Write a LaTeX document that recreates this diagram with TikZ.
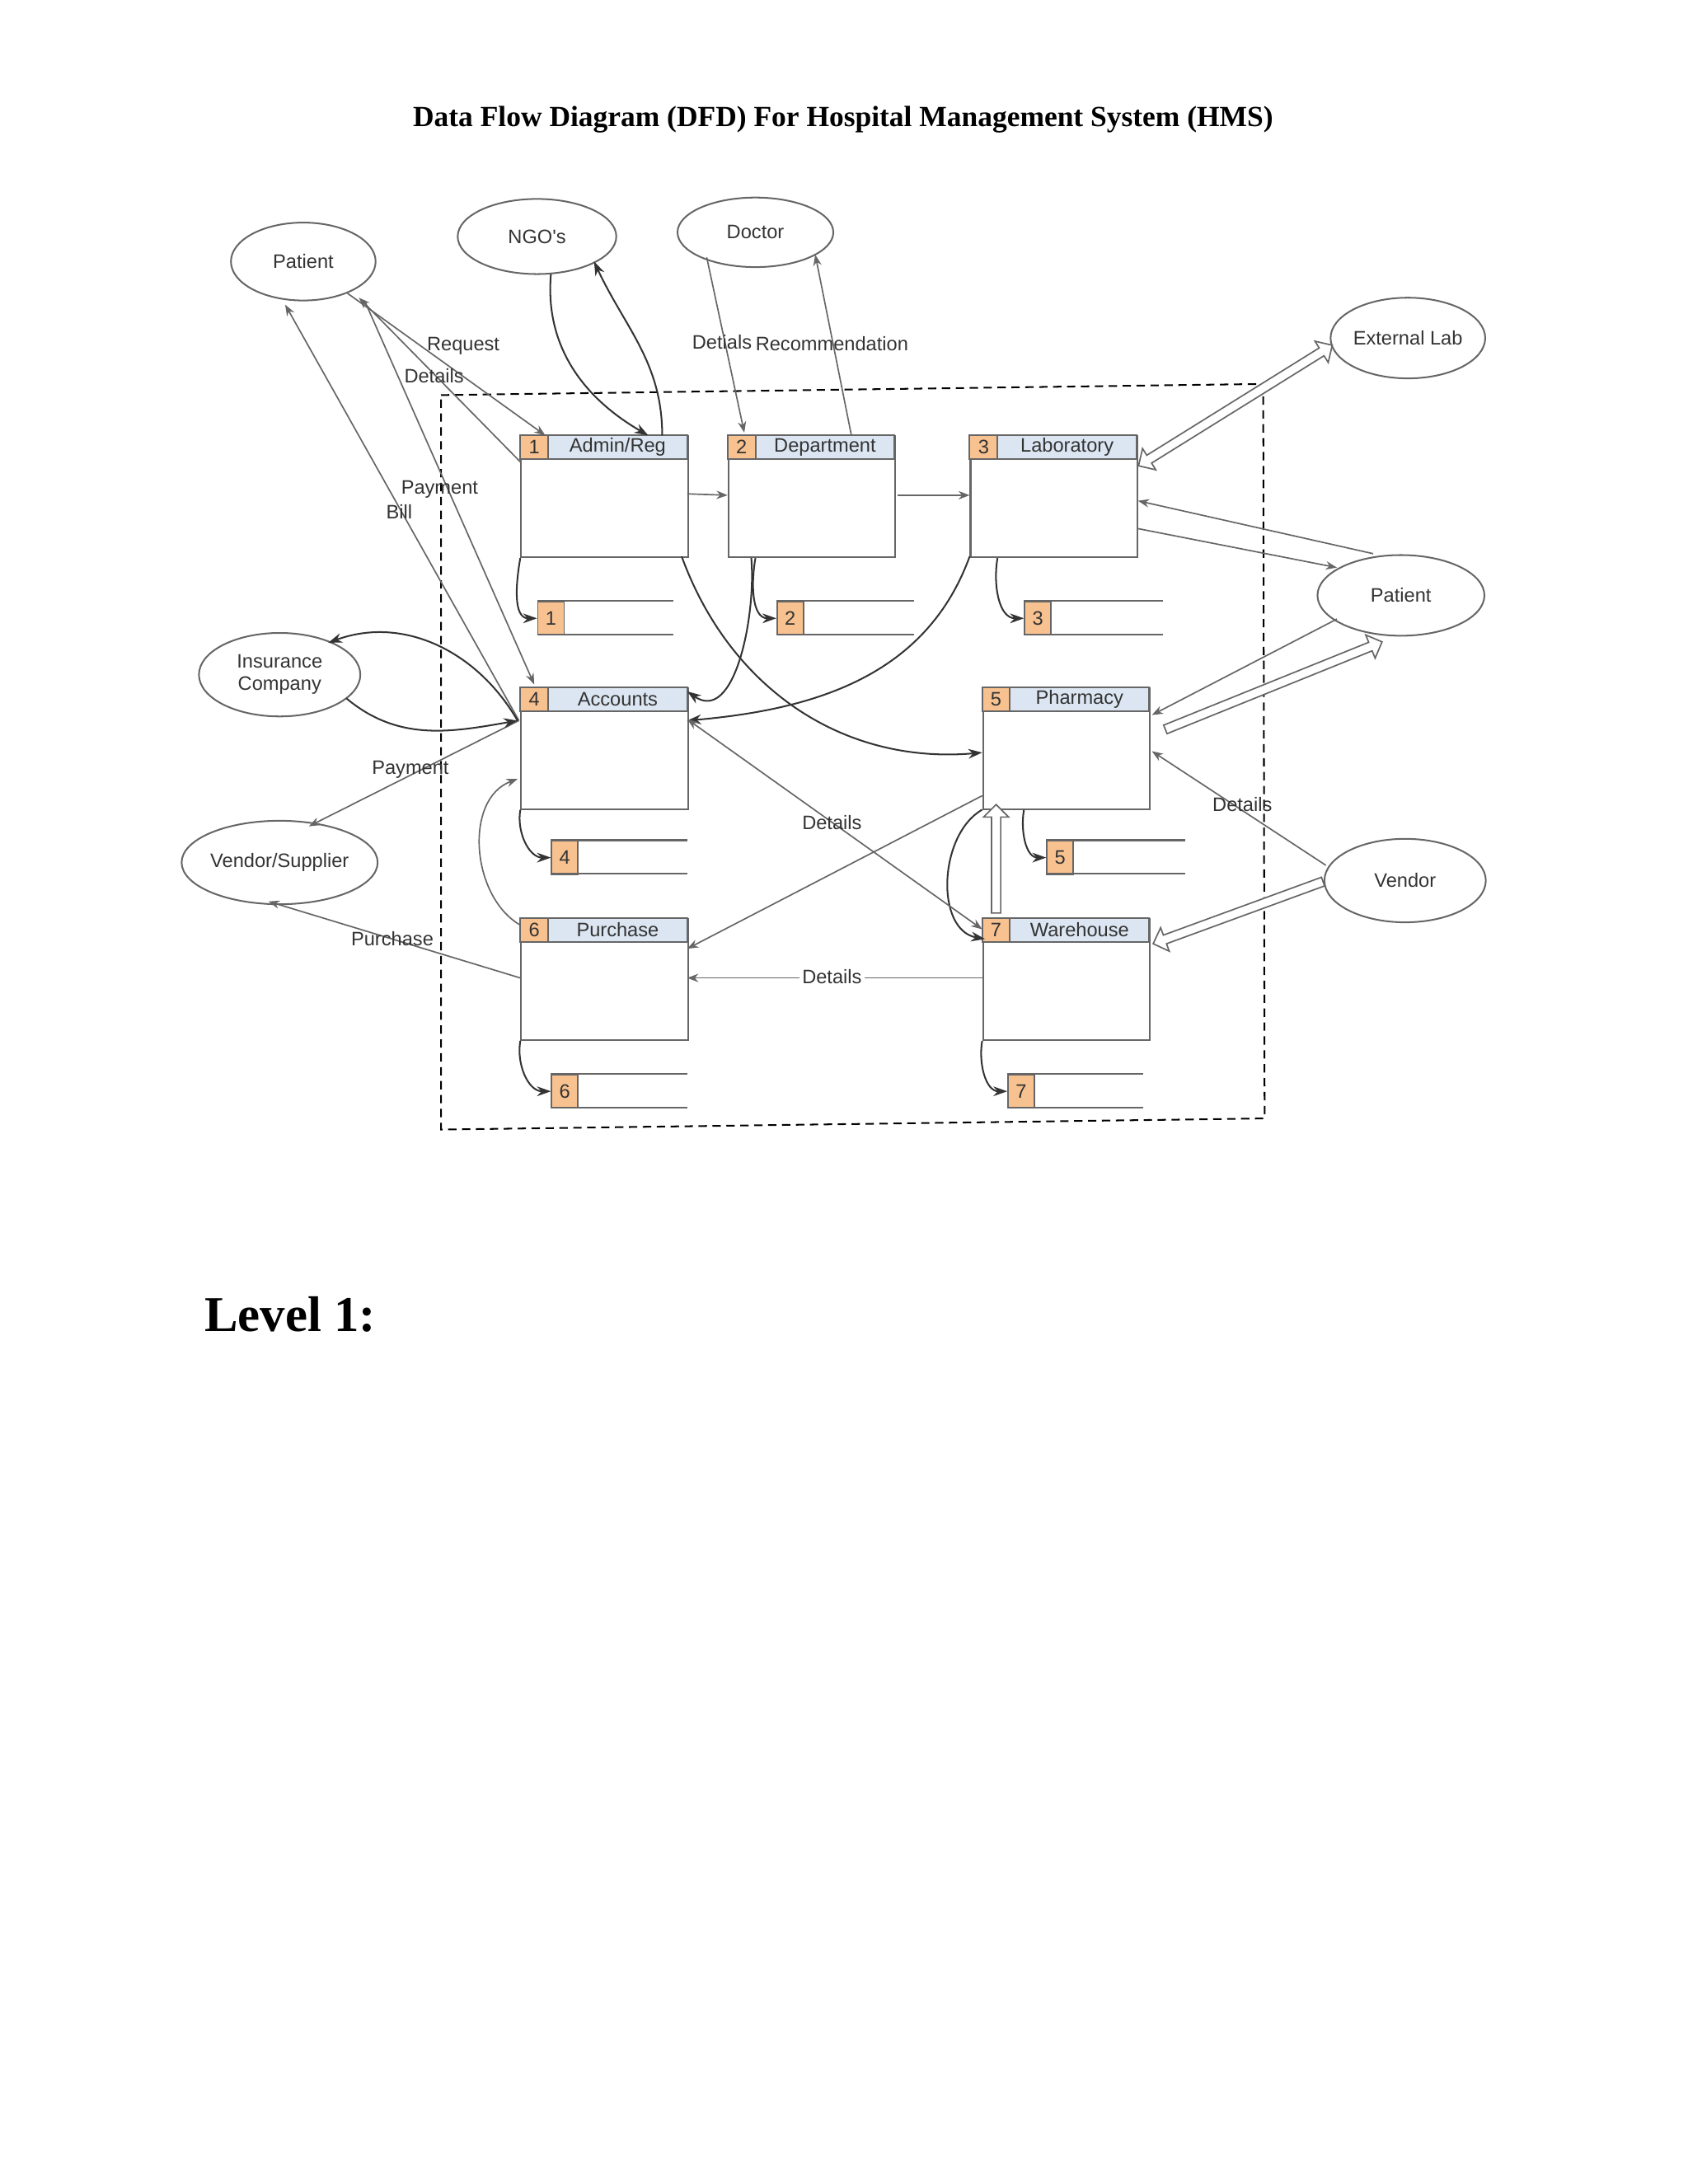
\documentclass[tikz,border=0pt]{standalone}
\usepackage{fontspec}
\setmainfont{Liberation Serif}
\newfontfamily\dsans{Liberation Sans}
\usetikzlibrary{shapes.geometric,shapes.arrows,arrows.meta}
\definecolor{ln}{HTML}{666666}
\definecolor{hdr}{HTML}{DCE6F2}
\definecolor{numc}{HTML}{F8C290}
\definecolor{tx}{HTML}{333333}
\tikzset{
  ent/.style={ellipse,draw=ln,line width=0.6pt,inner sep=0pt,font=\dsans\fontsize{7}{8}\selectfont,text=tx,align=center},
  arr/.style={draw=ln,line width=0.5pt,-{Stealth[length=4pt,width=3pt]}},
  barr/.style={draw=ln,line width=0.5pt,{Stealth[length=4pt,width=3pt]}-{Stealth[length=4pt,width=3pt]}},
  karr/.style={draw=black!80,line width=0.6pt,-{Stealth[length=5pt,width=3.5pt]}},
  lab/.style={font=\dsans\fontsize{7}{8}\selectfont,text=tx,inner sep=1pt},
  procbox/.style={draw=ln,line width=0.6pt,minimum width=60pt,minimum height=43.5pt,inner sep=0pt},
  hollow/.style={single arrow,draw=ln,fill=white,line width=0.5pt,minimum width=9pt,single arrow head extend=2.5pt,inner sep=1.2pt},
  dhollow/.style={double arrow,draw=ln,fill=white,line width=0.5pt,minimum width=9pt,double arrow head extend=2.5pt,inner sep=1.2pt}
}
\newcommand\proc[5]{%
  \node[procbox,anchor=north west] (#1) at (#2,#3) {};
  \fill[hdr] (#2,#3) rectangle ++(120,17);
  \fill[numc] (#2,#3) rectangle ++(20,17);
  \draw[ln,line width=0.6pt] (#2,#3) rectangle ++(120,17);
  \draw[ln,line width=0.6pt] (#2+20,#3) -- ++(0,17);
  \node[lab] at (#2+10,#3+8.5) {#4};
  \node[lab] at (#2+70,#3+8.5) {#5};
}
\newcommand\store[5]{%
  \node[draw=ln,fill=numc,line width=0.5pt,minimum width=9.5pt,minimum height=12pt,inner sep=0pt,anchor=north west,lab] (#1) at (#2,#3) {#4};
  \draw[ln,line width=0.6pt] (#2,#3) -- (#5,#3);
  \draw[ln,line width=0.6pt] (#2,#3+24) -- (#5,#3+24);
}
\begin{document}
\begin{tikzpicture}[x=0.5pt,y=-0.5pt]
\useasboundingbox (0,0) rectangle (1213,1570);
\node[font=\bfseries\fontsize{10.5}{12}\selectfont] (title) at (606,86) {Data Flow Diagram (DFD) For Hospital Management System (HMS)};
\node[font=\bfseries\fontsize{18}{20}\selectfont,anchor=west] (lvl) at (140,945) {Level 1:};

% boundary
\draw[black,line width=0.6pt,dash pattern=on 3pt off 2pt] (317,284) -- (908,276) -- (909,804) -- (317,812) -- cycle;

% entities
\node[ent,minimum width=52pt,minimum height=28pt] (pat) at (218,188) {Patient};
\node[ent,minimum width=57pt,minimum height=27pt] (ngo) at (386,170) {NGO's};
\node[ent,minimum width=56pt,minimum height=25pt] (doc) at (543,167) {Doctor};
\node[ent,minimum width=54pt,minimum height=29pt] (ext) at (1012,243) {External Lab};
\node[ent,minimum width=60pt,minimum height=29pt] (pat2) at (1007,428) {Patient};
\node[ent,minimum width=58pt,minimum height=30pt] (ins) at (201,485) {Insurance\\Company};
\node[ent,minimum width=58pt,minimum height=30pt] (vsup) at (201,620) {Vendor/Supplier};
\node[ent,minimum width=58pt,minimum height=30pt] (ven) at (1010,633) {Vendor};

% processes
\proc{p1}{374}{313}{1}{Admin/Reg}
\proc{p2}{523}{313}{2}{Department}
\proc{p3}{697}{313}{3}{Laboratory}
\proc{p4}{374}{494}{4}{Accounts}
\proc{p5}{706}{494}{5}{Pharmacy}
\proc{p6}{374}{660}{6}{Purchase}
\proc{p7}{706}{660}{7}{Warehouse}

% stores
\store{s1}{386}{432}{1}{484}
\store{s2}{558}{432}{2}{657}
\store{s3}{736}{432}{3}{836}
\store{s4}{396}{604}{4}{494}
\store{s5}{752}{604}{5}{852}
\store{s6}{396}{772}{6}{494}
\store{s7}{724}{772}{7}{822}

% store arrows
\draw[karr] (p1.south west) to[out=-100,in=180] (s1.west);
\draw[karr] (p2.south west)++(20,0) to[out=-100,in=180] (s2.west);
\draw[karr] (p3.south west)++(20,0) to[out=-100,in=180] (s3.west);
\draw[karr] (p4.south west) to[out=-100,in=180] (s4.west);
\draw[karr] (p5.south west)++(30,0) to[out=-100,in=180] (s5.west);
\draw[karr] (p6.south west) to[out=-100,in=180] (s6.west);
\draw[karr] (p7.south west) to[out=-100,in=180] (s7.west);

% coordinates
\coordinate (p1top1) at (392,313);
\coordinate (p1left) at (374,332);
\coordinate (p4tl) at (384,492);
\coordinate (p4l) at (373,518);
\coordinate (patbr) at (258,214);
\coordinate (patbr2) at (262,216);
\coordinate (patbl) at (205,219);

% patient left
\draw[arr] (pat) -- (p1top1);
\draw[arr] (p1left) -- (patbr);
\draw[arr] (patbr2) -- (p4tl);
\draw[arr] (p4l) -- (patbl);
\node[lab] (lreq) at (333,249) {Request};
\node[lab] (ldet1) at (312,270) {Details};
\node[lab] (lpay1) at (316,352) {Payment};
\node[lab] (lbill) at (287,368) {Bill};

% NGO
\coordinate (p1t2) at (466,313);
\coordinate (p1t3) at (476,313);
\draw[karr] (396,197) to[out=-95,in=150] (p1t2);
\draw[karr] (p1t3) to[out=90,in=-65] (427,188);

% Doctor
\draw[arr] (508,185) -- (535,311);
\node[lab] (ldet2) at (519,246) {Detials};
\draw[arr] (612,313) -- (586,183);
\node[lab] (lrec) at (598,247) {Recommendation};

% process flows
\draw[arr] (494,355) -- (523,356);
\draw[arr] (645,356) -- (697,356);
\draw[karr] (490,400) to[out=-70,in=185] (706,541);
\draw[karr] (540,401) to[out=-85,in=-35] (494,497);
\draw[karr] (697,400) to[out=-110,in=5] (494,518);

% lab & ext
\node[dhollow,rotate=31.9,minimum height=82pt] (hl1) at (888,291.5) {};
\draw[arr] (987,398) -- (818,360);
\draw[arr] (818,380) -- (961,408);
\draw[arr] (961,445) -- (828,514);
\node[hollow,rotate=22,minimum height=84pt] (hl2) at (914,493.5) {};

% vendor
\draw[arr] (953,622) -- (828,540);
\node[lab] (ldet3) at (893,578) {Details};
\node[hollow,rotate=200.1,minimum height=65pt] (hl3) at (891.5,655.5) {};
\node[hollow,rotate=90,minimum height=39pt] (hl4) at (716,619) {};

% warehouse/pharmacy
\draw[karr] (706,582) to[out=-150,in=170] (708,675);
\draw[arr] (706,572) -- (494,682);
\draw[barr] (494,517) -- (706,668);
\node[lab] (ldet4) at (598,591) {Details};
\draw[arr] (706,703) -- (494,703);
\node[lab,fill=white] (ldet5) at (598,702) {Details};

% accounts/purchase
\draw[arr] (374,665) to[out=150,in=-160] (372,560);
\draw[arr] (374,703) -- (193,648);
\node[lab] (lpur) at (282,675) {Purchase};
\draw[arr] (373,518) -- (222,594);
\node[lab] (lpay2) at (295,553) {Payment};

% insurance
\draw[karr] (372,518) to[out=120,in=20] (236,462);
\draw[karr] (249,502) to[out=-40,in=190] (372,518);
\end{tikzpicture}
\end{document}
